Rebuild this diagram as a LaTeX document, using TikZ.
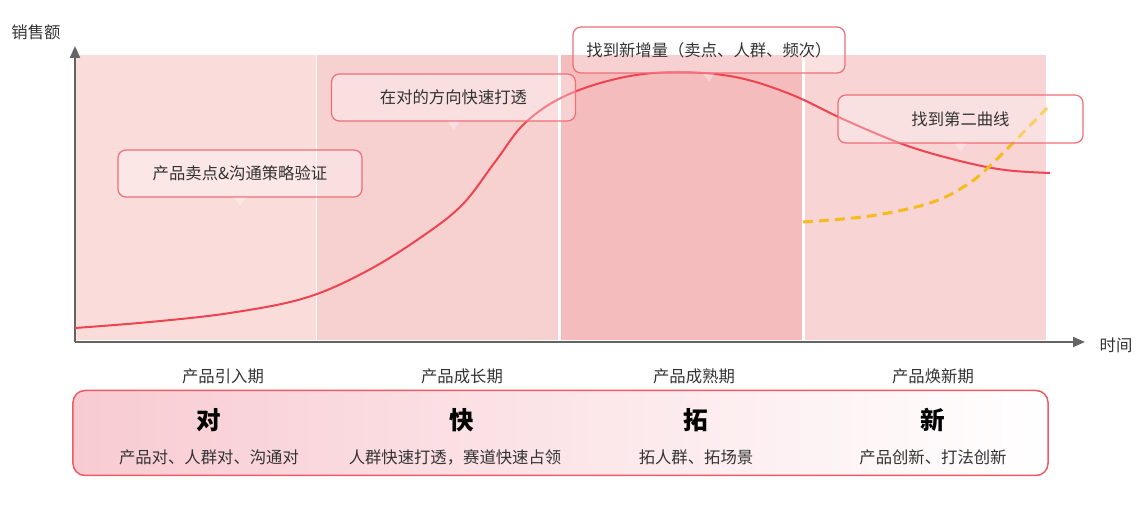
\documentclass[tikz,border=0pt]{standalone}
\usepackage{fontspec}
\setmainfont{Noto Sans CJK SC}
\usepackage{tikz}
\usepackage{xcolor}
\usetikzlibrary{arrows.meta,positioning}
\definecolor{INK}{RGB}{51,51,51}
\definecolor{AXIS}{RGB}{100,100,100}
\definecolor{BANDA}{RGB}{250,221,219}
\definecolor{BANDB}{RGB}{247,208,208}
\definecolor{BANDC}{RGB}{244,188,188}
\definecolor{BANDD}{RGB}{248,212,212}
\definecolor{CURVE}{RGB}{238,68,80}
\definecolor{GOLD}{RGB}{245,188,30}
\definecolor{NOTERED}{RGB}{240,110,120}
\definecolor{PANELRED}{RGB}{240,90,100}
\definecolor{PANELPINK}{RGB}{248,203,210}

\begin{document}
\begin{tikzpicture}[x=0.2mm,y=-0.2mm,font=\fontsize{9.3}{11}\selectfont,>=Triangle]
    \tikzset{band/.style={inner sep=0,outer sep=0,minimum width=48.2mm,minimum height=57mm},
      note/.style={draw=NOTERED,line width=0.25mm,rounded corners=1.6mm,fill=white,fill opacity=0.32,text opacity=1,text=INK,minimum width=48.8mm,minimum height=9.4mm},
      phase/.style={text=INK},
      big/.style={font=\fontsize{14}{16}\selectfont\bfseries,text=black},
      sub/.style={text=INK},
      panel/.style={draw=PANELRED,line width=0.3mm,rounded corners=2.4mm,left color=PANELPINK,right color=white,inner sep=0,minimum width=195mm,minimum height=17mm}}
    \useasboundingbox (0,0) rectangle (1144,505);
    % stage bands
    \foreach \i/\cx/\col in {1/195.5/BANDA,2/437.5/BANDB,3/681.5/BANDC,4/925.5/BANDD}
      \node[band,fill=\col] (b\i) at (\cx,197.5) {};
    % axes
    \coordinate (o) at (75,342);
    \coordinate (ytip) at (75,46);
    \coordinate (xtip) at (1085,342);
    \draw[AXIS,line width=0.4mm,-{Triangle[length=2.4mm,width=2mm]}] (o)--(ytip);
    \draw[AXIS,line width=0.4mm,-{Triangle[length=2.4mm,width=2mm]}] (o)--(xtip);
    \node[text=INK] (ylab) at (36,32) {销售额};
    \node[text=INK] (xlab) at (1116,345) {时间};
    % curves
    \draw[CURVE,line width=0.4mm] plot[smooth,tension=0.6] coordinates {(75,328) (150,322) (230,313) (305,298) (365,272) (420,238) (462,205) (495,162) (525,123) (565,96) (620,78) (675,72) (735,77) (790,94) (845,120) (905,145) (960,161) (1005,170) (1050,173)};
    \draw[GOLD,line width=0.6mm,dash pattern=on 2mm off 1.2mm] plot[smooth,tension=0.6] coordinates {(803,222) (870,216) (930,203) (968,184) (998,158) (1047,108)};
    % callouts
    \node[note] (n1) at (240,173.5) {产品卖点\&沟通策略验证};
    \node[note] (n2) at (453.5,97.5) {在对的方向快速打透};
    \node[note,minimum width=54.4mm,minimum height=9.2mm] (n3) at (709,50) {找到新增量（卖点、人群、频次）};
    \node[note,minimum width=49mm,minimum height=9.6mm] (n4) at (960.5,119) {找到第二曲线};
    \foreach \n in {n1,n2,n3,n4}
      \fill[white,opacity=0.32] ([xshift=-1.2mm]\n.south)--([yshift=-1.6mm]\n.south)--([xshift=1.2mm]\n.south)--cycle;
    % phases
    \node[phase] (p1) at (223,376) {产品引入期};
    \node[phase] (p2) at (462,376) {产品成长期};
    \node[phase] (p3) at (694,376) {产品成熟期};
    \node[phase] (p4) at (933,376) {产品焕新期};
    % strategy panel
    \node[panel] (panel) at (560.5,433) {};
    \node[big] (k1) at (209,420) {对};
    \node[big] (k2) at (462,420) {快};
    \node[big] (k3) at (696,420) {拓};
    \node[big] (k4) at (933,420) {新};
    \node[sub] (s1) at (209,457) {产品对、人群对、沟通对};
    \node[sub] (s2) at (455,457) {人群快速打透，赛道快速占领};
    \node[sub] (s3) at (696,457) {拓人群、拓场景};
    \node[sub] (s4) at (933,457) {产品创新、打法创新};
  \end{tikzpicture}
\end{document}
